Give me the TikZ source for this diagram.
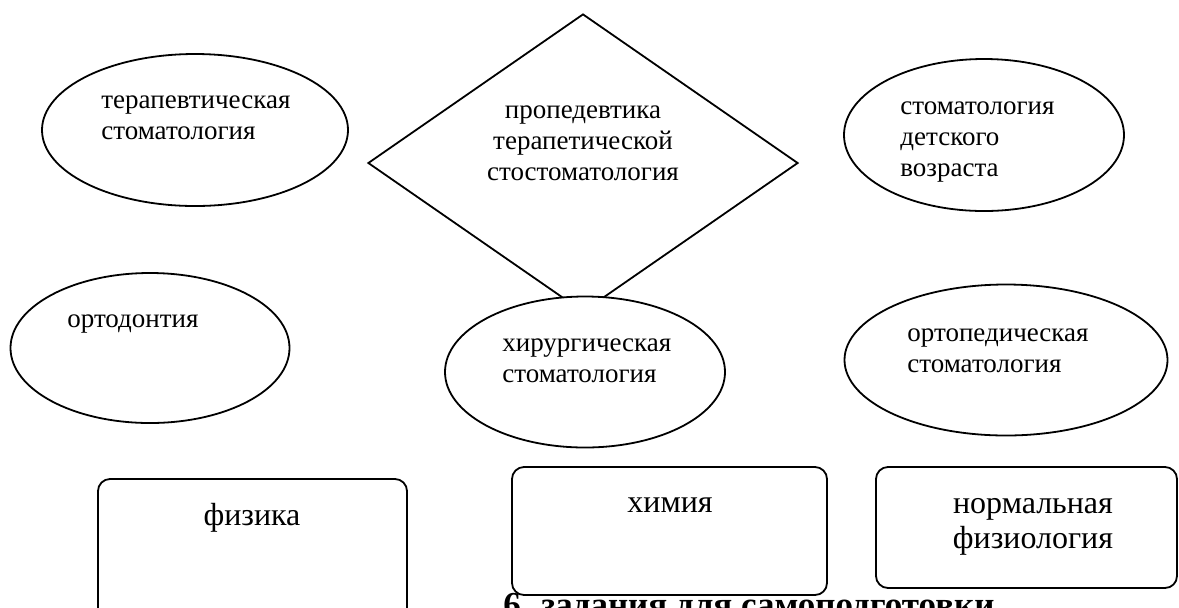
\documentclass[tikz,border=0pt]{standalone}
\usepackage{fontspec}
\setmainfont{Liberation Serif}
\usetikzlibrary{shapes.geometric}
\tikzset{
	shape line/.style={draw, line width=0.9pt, inner sep=0pt, fill=white},
	oval/.style={shape line, ellipse},
	rhomb/.style={shape line, diamond},
	subject/.style={shape line, rectangle, rounded corners=6pt},
	small text/.style={inner sep=0pt, align=left, font=\fontsize{13.5}{15.3}\selectfont},
	big text/.style={inner sep=0pt, align=center, font=\fontsize{16}{17.5}\selectfont}
}

\begin{document}
\begin{tikzpicture}[x=0.5pt, y=-0.5pt]
	\useasboundingbox (0,0) rectangle (1179,607);
	
	% ==========================================
	% heading under the boxes (cut by the page edge)
	% ==========================================
	\node[anchor=base west, inner sep=0pt, font=\fontsize{17.5}{19}\selectfont\bfseries] (heading) at (503, 616) {6. задания для самоподготовки};
	
	% --- centre: diamond ---
	\node[rhomb, minimum width=215pt, minimum height=149pt] (prop) at (583, 163) {};
	\node[small text, align=center, anchor=base] (proptext) at (583, 180) {пропедевтика\\терапетической\\стостоматология};
	
	% --- upper row ---
	\node[oval, minimum width=153pt, minimum height=76pt] (ter) at (195, 130) {};
	\node[small text, anchor=base west] (tertext) at (101, 139) {терапевтическая\\стоматология};
	
	\node[oval, minimum width=140pt, minimum height=76pt] (det) at (984, 135) {};
	\node[small text, anchor=base west] (dettext) at (900, 176) {стоматология\\детского\\возраста};
	
	% --- middle row ---
	\node[oval, minimum width=139.5pt, minimum height=75pt] (ortho) at (150, 348) {};
	\node[small text, anchor=base west] (orthotext) at (67, 327) {ортодонтия};
	
	\node[oval, minimum width=140pt, minimum height=75.5pt] (hir) at (585, 372) {}; % covers the tip of the diamond
	\node[small text, anchor=base west] (hirtext) at (502, 382) {хирургическая\\стоматология};
	
	\node[oval, minimum width=161.5pt, minimum height=75.5pt] (ortop) at (1006, 360) {};
	\node[small text, anchor=base west] (ortoptext) at (907, 372) {ортопедическая\\стоматология};
	
	% --- lower row: rounded boxes ---
	\node[subject, minimum width=154.5pt, minimum height=70.5pt] (fiz) at (252.5, 549.5) {};
	\node[big text, anchor=base] (fiztext) at (252, 525) {физика};
	
	\node[subject, minimum width=157.5pt, minimum height=64pt] (him) at (669.5, 531) {};
	\node[big text, anchor=base] (himtext) at (670, 512) {химия};
	
	\node[subject, minimum width=150.5pt, minimum height=60.5pt] (norm) at (1026.5, 527.5) {};
	\node[big text, anchor=base] (normtext) at (1033, 548) {нормальная\\физиология};
	
\end{tikzpicture}
\end{document}
